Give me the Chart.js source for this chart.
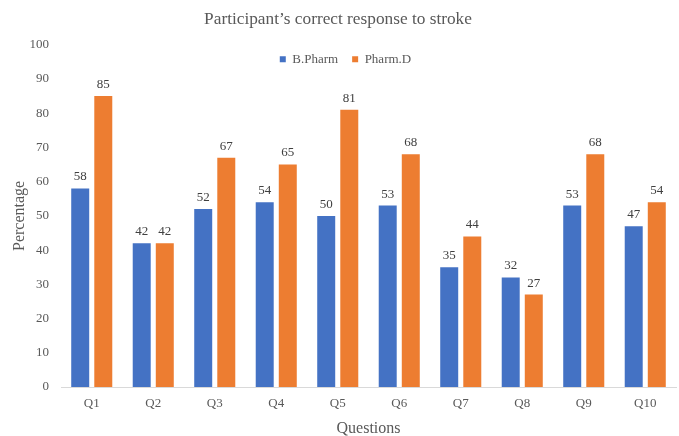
<!DOCTYPE html>
<html>
<head>
<meta charset="utf-8">
<script src="https://cdn.jsdelivr.net/npm/chart.js@4/dist/chart.umd.min.js"></script>
<style>
  html, body { margin: 0; padding: 0; background: #ffffff; }
  #wrap { width: 679px; height: 436px; }
</style>
</head>
<body>
<div id="wrap"><canvas id="chart" width="679" height="436"></canvas></div>
<script>
const categories = ['Q1', 'Q2', 'Q3', 'Q4', 'Q5', 'Q6', 'Q7', 'Q8', 'Q9', 'Q10'];
const bPharm = [58, 42, 52, 54, 50, 53, 35, 32, 53, 47];
const pharmD = [85, 42, 67, 65, 81, 68, 44, 27, 68, 54];
const yTicks = [0, 10, 20, 30, 40, 50, 60, 70, 80, 90, 100];

const SERIF = '"Liberation Serif", "Times New Roman", serif';
const TEXT = '#595959';

// value labels above every bar
const valueLabels = {
  id: 'valueLabels',
  afterDatasetsDraw(chart) {
    const ctx = chart.ctx;
    ctx.save();
    ctx.font = '13px ' + SERIF;
    ctx.fillStyle = '#404040';
    ctx.textAlign = 'center';
    ctx.textBaseline = 'bottom';
    chart.data.datasets.forEach((ds, i) => {
      chart.getDatasetMeta(i).data.forEach((bar, j) => {
        ctx.fillText(String(ds.data[j]), bar.x, bar.y - 5);
      });
    });
    ctx.restore();
  }
};

// lay the in-plot legend out as a single row near the top of the plot
const rowLegend = {
  id: 'rowLegend',
  beforeLayout(chart) {
    if (chart.legend) chart.legend.isHorizontal = () => true;
  },
  afterLayout(chart) {
    const lg = chart.legend;
    if (!lg) return;
    const h = lg.height;
    lg.left = 0;
    lg.right = chart.width + 12;
    lg.width = lg.right - lg.left;
    lg.top = chart.chartArea.top - 6;
    lg.bottom = lg.top + h;
  }
};

new Chart(document.getElementById('chart'), {
  type: 'bar',
  data: {
    labels: categories,
    datasets: [
      { label: 'B.Pharm', data: bPharm, backgroundColor: '#4472C4' },
      { label: 'Pharm.D', data: pharmD, backgroundColor: '#ED7D31' }
    ]
  },
  options: {
    responsive: false,
    animation: false,
    events: [],
    layout: { padding: { left: 0, right: 3, top: 0, bottom: 0 } },
    datasets: { bar: { categoryPercentage: 0.75, barPercentage: 0.78 } },
    plugins: {
      title: {
        display: true,
        text: 'Participant\u2019s correct response to stroke',
        color: TEXT,
        font: { family: SERIF, size: 17.3, weight: 'normal' },
        padding: { top: 9, bottom: 15 }
      },
      legend: {
        position: 'chartArea',
        labels: {
          color: TEXT,
          font: { family: SERIF, size: 13 },
          boxWidth: 6,
          boxHeight: 6,
          padding: 14
        }
      },
      tooltip: { enabled: false }
    },
    scales: {
      x: {
        afterFit(scale) { scale.height = 49; },
        grid: { display: false, drawTicks: false },
        border: { display: true, color: '#d9d9d9', width: 1 },
        ticks: { color: TEXT, font: { family: SERIF, size: 13 }, padding: 9 },
        title: {
          display: true,
          text: 'Questions',
          color: TEXT,
          font: { family: SERIF, size: 16 },
          padding: { top: 4, bottom: -2 }
        }
      },
      y: {
        min: 0,
        max: 100,
        afterFit(scale) { scale.width = 61; },
        afterBuildTicks(scale) { scale.ticks = yTicks.map(v => ({ value: v })); },
        grid: { display: false, drawTicks: false },
        border: { display: false },
        ticks: { color: TEXT, font: { family: SERIF, size: 13 }, padding: 12 },
        title: {
          display: true,
          text: 'Percentage',
          color: TEXT,
          font: { family: SERIF, size: 16 },
          padding: { top: 10, bottom: 4 }
        }
      }
    }
  },
  plugins: [valueLabels, rowLegend]
});
</script>
</body>
</html>
